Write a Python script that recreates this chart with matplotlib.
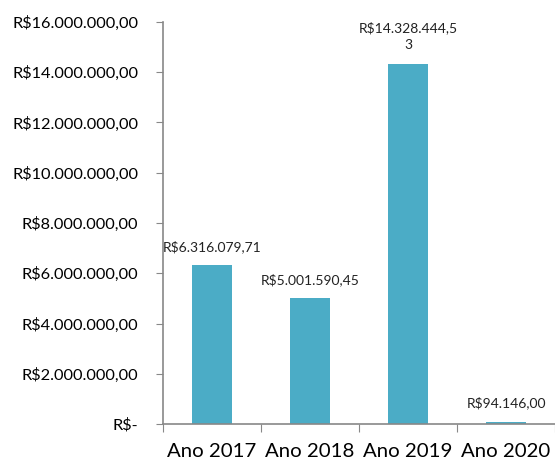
import matplotlib.pyplot as plt
from matplotlib.ticker import FuncFormatter

anos = ['Ano 2017', 'Ano 2018', 'Ano 2019', 'Ano 2020']
valores = [6316079.71, 5001590.45, 14328444.53, 94146.00]
rotulos = ['R$6.316.079,71', 'R$5.001.590,45', 'R$14.328.444,5\n3', 'R$94.146,00']
yticks = [0, 2e6, 4e6, 6e6, 8e6, 10e6, 12e6, 14e6, 16e6]


def moeda(v, pos=None):
    if v == 0:
        return 'R$-'
    s = f'{v:,.2f}'.replace(',', 'X').replace('.', ',').replace('X', '.')
    return 'R$' + s


plt.rcParams['font.family'] = ['Lato', 'DejaVu Sans']

fig = plt.figure(figsize=(5.55, 4.63), dpi=100)
ax = fig.add_axes([0.2937, 0.0842, 0.7063, 0.8683])

x = range(len(anos))
ax.bar(x, valores, width=0.4, color='#4BACC6')

for i, (v, r) in enumerate(zip(valores, rotulos)):
    ax.annotate(r, (i, v), xytext=(0, 9), textcoords='offset points',
                ha='center', va='bottom', fontsize=10, color='#222222',
                linespacing=1.55)

ax.set_xlim(-0.5, 3.5)
ax.set_ylim(0, 16e6)
ax.set_yticks(yticks)
ax.yaxis.set_major_formatter(FuncFormatter(moeda))
ax.set_xticks([-0.5, 0.5, 1.5, 2.5, 3.5])
ax.set_xticklabels([])
ax.set_xticks(list(x), minor=True)
ax.set_xticklabels(anos, minor=True, fontsize=14.7)
ax.tick_params(axis='x', which='minor', length=0, pad=14)
ax.tick_params(axis='x', which='major', length=6, color='#888888', direction='out')
ax.tick_params(axis='y', length=5, color='#888888', labelsize=11.8, pad=13)

for s in ['top', 'right']:
    ax.spines[s].set_visible(False)
for s in ['left', 'bottom']:
    ax.spines[s].set_color('#888888')
    ax.spines[s].set_linewidth(1.2)

fig.savefig('out.png', dpi=100)
